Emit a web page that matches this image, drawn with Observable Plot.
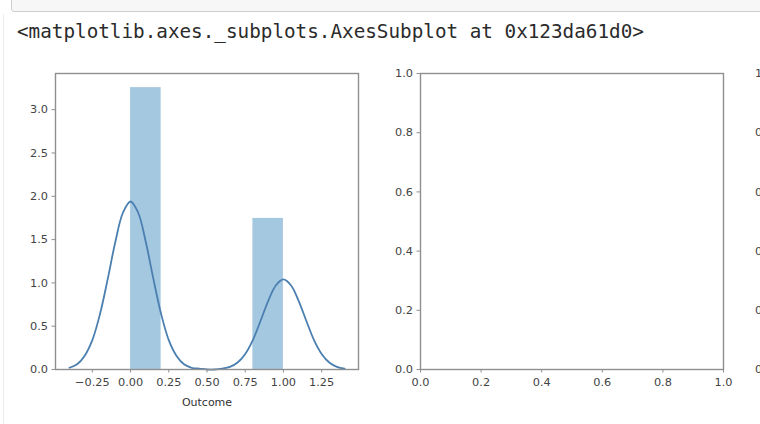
<!DOCTYPE html>
<html>
<head>
<meta charset="utf-8">
<script src="https://cdn.jsdelivr.net/npm/d3@7"></script>
<script src="https://cdn.jsdelivr.net/npm/@observablehq/plot@0.6"></script>
<style>
  html, body { margin: 0; padding: 0; background: #fff; }
  #wrap { position: relative; width: 760px; height: 424px; overflow: hidden; background: #fff; }
  #cell { position: absolute; left: 11px; top: -6px; width: 760px; height: 16px; background: #f7f7f7; border: 1px solid #cfcfcf; border-radius: 3px; }
  #prompt { position: absolute; left: 3px; top: 14px; width: 1px; height: 420px; background: #ececec; }
  #out { position: absolute; left: 17px; top: 20.5px; font-family: "DejaVu Sans Mono", monospace; font-size: 19.3px; line-height: 22px; color: #2b2b2b; white-space: pre; }
  .panel { position: absolute; top: 60px; width: 390px; height: 364px; }
  .panel svg { max-width: none !important; }
</style>
</head>
<body>
<div id="wrap">
  <div id="cell"></div>
  <div id="prompt"></div>
  <div id="out">&lt;matplotlib.axes._subplots.AxesSubplot at 0x123da61d0&gt;</div>
  <div class="panel" id="p1" style="left:0px"></div>
  <div class="panel" id="p2" style="left:370px"></div>
  <div class="panel" id="p3" style="left:740px"></div>
</div>
<script>
// Histogram of Outcome (density), 5 bins
const binStart = [0.0, 0.2, 0.4, 0.6, 0.8];
const binEnd   = [0.2, 0.4, 0.6, 0.8, 1.0];
const density  = [3.255, 0, 0, 0, 1.745];

// KDE curve
const kdeX = [-0.40,-0.35,-0.30,-0.25,-0.20,-0.15,-0.10,-0.05,0.00,0.05,0.10,0.15,0.20,0.25,0.30,0.35,0.40,0.45,0.50,0.55,0.60,0.65,0.70,0.75,0.80,0.85,0.90,0.95,1.00,1.05,1.10,1.15,1.20,1.25,1.30,1.35,1.40];
const kdeY = [0.02,0.06,0.16,0.34,0.64,1.04,1.47,1.81,1.94,1.81,1.47,1.04,0.64,0.34,0.16,0.06,0.02,0.01,0.00,0.00,0.01,0.03,0.08,0.18,0.34,0.56,0.79,0.97,1.04,0.97,0.79,0.56,0.34,0.18,0.08,0.03,0.01];

// Tick values
const leftXTicks = [-0.25, 0.00, 0.25, 0.50, 0.75, 1.00, 1.25];
const leftYTicks = [0.0, 0.5, 1.0, 1.5, 2.0, 2.5, 3.0];
const unitTicks  = [0.0, 0.2, 0.4, 0.6, 0.8, 1.0];
const xLabel = "Outcome";

const bars = binStart.map((s, i) => ({x1: s, x2: binEnd[i], y: density[i]}));
const kde = kdeX.map((x, i) => ({x, y: kdeY[i]}));

const tickColor = "#444";
const frameColor = "#8f8f8f";
const font = {fontFamily: "DejaVu Sans, sans-serif", fontSize: "11.3px", background: "transparent", overflow: "visible"};

const left = Plot.plot({
  width: 380, height: 364,
  marginTop: 13, marginRight: 22, marginBottom: 55, marginLeft: 55,
  style: font,
  x: {domain: [-0.491, 1.491], label: null},
  y: {domain: [0, 3.418], label: null},
  marks: [
    Plot.rectY(bars, {x1: "x1", x2: "x2", y: "y", fill: "#a5c8e1", inset: 0}),
    Plot.line(kde, {x: "x", y: "y", stroke: "#4a7fb0", strokeWidth: 1.8, curve: "catmull-rom"}),
    Plot.frame({stroke: frameColor, strokeWidth: 1.4}),
    Plot.axisX({ticks: leftXTicks, tickFormat: d3.format(".2f"), tickSize: 3.5, tickPadding: 5, stroke: frameColor, fill: tickColor, label: null}),
    Plot.axisY({ticks: leftYTicks, tickFormat: d3.format(".1f"), tickSize: 3.5, tickPadding: 4, stroke: frameColor, fill: tickColor, label: null}),
    Plot.text([xLabel], {frameAnchor: "bottom", dy: 33, lineAnchor: "middle", fill: "#333", fontSize: 11})
  ]
});
document.getElementById("p1").appendChild(left);

function emptyPanel(w, ml, mr, withX) {
  const marks = [
    Plot.frame({stroke: frameColor, strokeWidth: 1.4}),
    Plot.axisY({ticks: unitTicks, tickFormat: d3.format(".1f"), tickSize: 3.5, tickPadding: 4, stroke: frameColor, fill: tickColor, label: null})
  ];
  if (withX) marks.push(Plot.axisX({ticks: unitTicks, tickFormat: d3.format(".1f"), tickSize: 3.5, tickPadding: 5, stroke: frameColor, fill: tickColor, label: null}));
  return Plot.plot({
    width: w, height: 364,
    marginTop: 13, marginRight: mr, marginBottom: 55, marginLeft: ml,
    style: font,
    x: {domain: [0, 1], label: null, axis: null},
    y: {domain: [0, 1], label: null},
    marks
  });
}
document.getElementById("p2").appendChild(emptyPanel(390, 50, 37, true));
document.getElementById("p3").appendChild(emptyPanel(390, 40, 47, false));
</script>
</body>
</html>
